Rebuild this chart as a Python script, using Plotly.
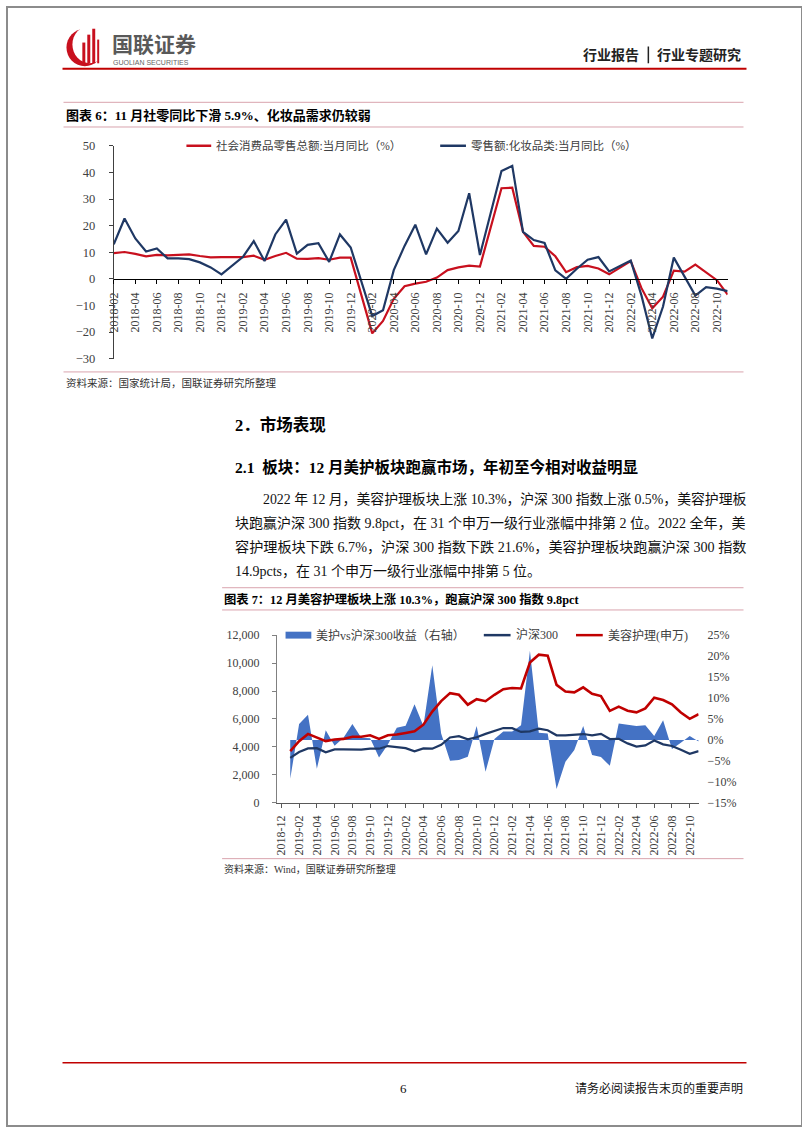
import plotly.graph_objects as go

W, H = 802, 1133
SERIF = "Liberation Serif, Noto Sans CJK SC, serif"
SANS_CJK = "Noto Sans CJK SC, sans-serif"


def X(p):
    return p / W


def Y(p):
    return 1 - p / H


# ---------------- Chart 1 data (图表6) ----------------
months1 = [
    "2018-02", "2018-03", "2018-04", "2018-05", "2018-06", "2018-07", "2018-08", "2018-09", "2018-10", "2018-11", "2018-12",
    "2019-01", "2019-02", "2019-03", "2019-04", "2019-05", "2019-06", "2019-07", "2019-08", "2019-09", "2019-10", "2019-11", "2019-12",
    "2020-01", "2020-02", "2020-03", "2020-04", "2020-05", "2020-06", "2020-07", "2020-08", "2020-09", "2020-10", "2020-11", "2020-12",
    "2021-01", "2021-02", "2021-03", "2021-04", "2021-05", "2021-06", "2021-07", "2021-08", "2021-09", "2021-10", "2021-11", "2021-12",
    "2022-01", "2022-02", "2022-03", "2022-04", "2022-05", "2022-06", "2022-07", "2022-08", "2022-09", "2022-10", "2022-11",
]
retail_yoy = [
    9.7, 10.1, 9.4, 8.5, 9.0, 8.8, 9.0, 9.2, 8.6, 8.1, 8.2,
    None, 8.2, 8.7, 7.2, 8.6, 9.8, 7.6, 7.5, 7.8, 7.2, 8.0, 8.0,
    None, -20.5, -15.8, -7.5, -2.8, -1.8, -1.1, 0.5, 3.3, 4.3, 5.0, 4.6,
    None, 34.1, 34.3, 17.7, 12.4, 12.1, 8.5, 2.5, 4.4, 4.9, 3.9, 1.7,
    None, 6.7, -3.5, -11.1, -6.7, 3.1, 2.7, 5.4, 2.5, -0.5, -5.9,
]
cosmetics_yoy = [
    13.0, 22.7, 15.2, 10.3, 11.4, 7.7, 7.7, 7.4, 6.2, 4.3, 1.7,
    None, 8.3, 14.2, 6.7, 16.7, 22.3, 9.5, 12.8, 13.4, 6.4, 16.7, 11.8,
    None, -14.0, -11.8, 3.3, 12.4, 20.4, 9.2, 18.9, 13.6, 18.0, 32.2, 9.0,
    None, 40.6, 42.5, 17.7, 14.6, 13.5, 3.2, 0.0, 3.8, 7.2, 8.2, 2.8,
    None, 6.9, -6.3, -22.4, -10.4, 8.0, 0.7, -6.3, -3.1, -3.7, -4.6,
]
ticks1 = months1[0::2]
series1_names = ["社会消费品零售总额:当月同比（%）", "零售额:化妆品类:当月同比（%）"]

# ---------------- Chart 2 data (图表7) ----------------
months2 = [
    "2018-12",
    "2019-01", "2019-02", "2019-03", "2019-04", "2019-05", "2019-06", "2019-07", "2019-08", "2019-09", "2019-10", "2019-11", "2019-12",
    "2020-01", "2020-02", "2020-03", "2020-04", "2020-05", "2020-06", "2020-07", "2020-08", "2020-09", "2020-10", "2020-11", "2020-12",
    "2021-01", "2021-02", "2021-03", "2021-04", "2021-05", "2021-06", "2021-07", "2021-08", "2021-09", "2021-10", "2021-11", "2021-12",
    "2022-01", "2022-02", "2022-03", "2022-04", "2022-05", "2022-06", "2022-07", "2022-08", "2022-09", "2022-10", "2022-11",
]
beauty_index = [
    None,
    3700, 4410, 4930, 4650, 4410, 4530, 4570, 4720, 4720, 4830, 4570, 4830,
    4880, 5000, 5120, 5590, 6530, 7280, 7850, 7730, 7020, 7420, 7270, 7730,
    8130, 8220, 8180, 10040, 10600, 10530, 8440, 7970, 7900, 8260, 7800, 7640,
    6580, 6880, 6590, 6470, 6760, 7520, 7350, 7050, 6460, 6010, 6340,
]
hs300_index = [
    None,
    3210, 3630, 3890, 3910, 3610, 3820, 3820, 3800, 3800, 3870, 3870, 4060,
    3980, 3910, 3680, 3890, 3870, 4150, 4670, 4770, 4540, 4690, 4930, 5160,
    5350, 5340, 5070, 5110, 5300, 5190, 4830, 4820, 4850, 4920, 4830, 4930,
    4560, 4580, 4250, 4020, 4110, 4460, 4180, 4060, 3800, 3510, 3700,
]
excess_return = [
    None,
    -9.3, 3.8, 6.0, -6.9, 2.3, -1.4, 0.5, 3.8, 0.5, 0.4, -4.2, -1.1,
    2.9, 3.4, 8.5, 3.3, 17.8, 1.5, -5.0, -4.8, -4.0, 3.3, -7.6, 0.2,
    2.0, 2.0, 3.5, 21.3, 1.7, 1.5, -11.7, -5.2, -2.4, 3.3, -3.6, -4.1,
    -6.2, 3.9, 3.6, 3.3, 3.5, 0.9, 4.7, -2.2, -0.7, 0.9, -0.4,
]
ticks2 = months2[0::2]
series2_names = ["美护vs沪深300收益（右轴）", "沪深300", "美容护理(申万)"]

RED = "#C8101E"
NAVY = "#1F3864"
BLUE_FILL = "#4472C4"
PINK = "#D9A3AD"

fig = go.Figure()

# Chart 1 traces
fig.add_trace(go.Scatter(x=months1, y=retail_yoy, name=series1_names[0], mode="lines",
                         line=dict(color=RED, width=2.2), connectgaps=True,
                         xaxis="x", yaxis="y", showlegend=False))
fig.add_trace(go.Scatter(x=months1, y=cosmetics_yoy, name=series1_names[1], mode="lines",
                         line=dict(color=NAVY, width=2.2), connectgaps=True,
                         xaxis="x", yaxis="y", showlegend=False))

# Chart 2 traces (area on the base axis so the lines are drawn above it)
fig.add_trace(go.Scatter(x=months2, y=excess_return, name=series2_names[0], mode="lines",
                         fill="tozeroy", fillcolor=BLUE_FILL, line=dict(color=BLUE_FILL, width=0),
                         xaxis="x2", yaxis="y2", showlegend=False))
fig.add_trace(go.Scatter(x=months2, y=hs300_index, name=series2_names[1], mode="lines",
                         line=dict(color=NAVY, width=2.2), xaxis="x2", yaxis="y3", showlegend=False))
fig.add_trace(go.Scatter(x=months2, y=beauty_index, name=series2_names[2], mode="lines",
                         line=dict(color="#C00000", width=2.6), xaxis="x2", yaxis="y3", showlegend=False))

tickfont = dict(family="Liberation Serif, serif", size=12, color="#404040")
tickfont_y1 = dict(family="Liberation Serif, serif", size=12.5, color="#404040")

fig.update_layout(
    width=W, height=H,
    margin=dict(l=0, r=0, t=0, b=0),
    paper_bgcolor="white", plot_bgcolor="rgba(0,0,0,0)",
    showlegend=False,
    xaxis=dict(type="category", categoryorder="array", categoryarray=months1,
               range=[0, len(months1) - 1], domain=[X(107.7), X(727)],
               anchor="free", position=Y(275),
               showline=True, linecolor="#000000", linewidth=1,
               ticks="outside", ticklen=4, tickcolor="#000000",
               tickmode="array", tickvals=ticks1, ticktext=ticks1, tickangle=-90,
               tickfont=tickfont, ticklabelstandoff=4,
               showgrid=False, zeroline=False),
    yaxis=dict(domain=[Y(356), Y(140.7)], range=[-30, 50], dtick=10, anchor="x",
               showline=True, linecolor="#404040", linewidth=1,
               ticks="outside", ticklen=4, tickcolor="#404040",
               tickfont=tickfont_y1, ticklabelstandoff=11,
               showgrid=False, zeroline=False),
    xaxis2=dict(type="category", categoryorder="array", categoryarray=months2,
                range=[-0.5, len(months2) - 1], domain=[X(272.3), X(697.7)],
                anchor="y2",
                showline=True, linecolor="#595959", linewidth=1,
                ticks="outside", ticklen=4, tickcolor="#595959",
                tickmode="array", tickvals=ticks2, ticktext=ticks2, tickangle=-90,
                tickfont=tickfont, ticklabelstandoff=3,
                showgrid=False, zeroline=False),
    yaxis2=dict(domain=[Y(805.7), Y(636)], range=[-15, 25], dtick=5, ticksuffix="%",
                side="right", anchor="x2", showline=False, ticks="",
                tickfont=tickfont, ticklabelstandoff=8,
                showgrid=False, zeroline=False),
    yaxis3=dict(range=[0, 12000], dtick=2000, tickformat=",", side="left",
                overlaying="y2", anchor="x2",
                showline=True, linecolor="#808080", linewidth=1,
                ticks="outside", ticklen=4, tickcolor="#808080",
                tickfont=tickfont, ticklabelstandoff=10,
                showgrid=False, zeroline=False),
)

shapes = []
annotations = []


def hline(x0, x1, y, color, width=1):
    shapes.append(dict(type="line", xref="paper", yref="paper", x0=X(x0), x1=X(x1), y0=Y(y), y1=Y(y),
                       line=dict(color=color, width=width)))


def text(x, y, s, size, color="#1a1a1a", family=SERIF, anchor="left", bold=False):
    annotations.append(dict(xref="paper", yref="paper", x=X(x), y=Y(y), text=("<b>%s</b>" % s) if bold else s,
                            showarrow=False, xanchor=anchor, yanchor="middle",
                            font=dict(family=family, size=size, color=color)))


# Page frame
shapes.append(dict(type="rect", xref="paper", yref="paper", x0=0, x1=1, y0=0, y1=1,
                   line=dict(color="#8c8c8c", width=2)))

# Logo
shapes.append(dict(type="circle", xref="paper", yref="paper", x0=X(60), x1=X(97), y0=Y(60), y1=Y(22),
                   fillcolor="#C8101E", line=dict(width=0)))
shapes.append(dict(type="circle", xref="paper", yref="paper", x0=X(66), x1=X(101), y0=Y(57), y1=Y(19),
                   fillcolor="white", line=dict(width=0)))
for bx0, bx1, by0 in [(76, 79, 36), (81, 84, 28), (86, 89, 22), (91, 93, 33)]:
    shapes.append(dict(type="rect", xref="paper", yref="paper", x0=X(bx0), x1=X(bx1), y0=Y(57), y1=Y(by0),
                       fillcolor="#C8101E", line=dict(width=0)))
text(104, 36.5, "国联证券", 21, color="#595959", family=SANS_CJK, bold=True)
text(105, 56.5, "GUOLIAN SECURITIES", 7, color="#666666", family="Liberation Sans, Arial, sans-serif")

# Header right
text(640, 48, "行业报告", 14, color="#222222", family=SANS_CJK, anchor="right", bold=True)
shapes.append(dict(type="line", xref="paper", yref="paper", x0=X(647), x1=X(647), y0=Y(40), y1=Y(57),
                   line=dict(color="#222222", width=1.5)))
text(654, 48, "行业专题研究", 14, color="#222222", family=SANS_CJK, bold=True)
hline(56, 746, 62.5, "#C00000", 2)

# Figure 6 frame and title
hline(57, 743, 96.5, PINK)
text(57, 110, "图表 6：11 月社零同比下滑 5.9%、化妆品需求仍较弱", 13, color="#000000", bold=True)
hline(57, 743, 121.5, PINK)
hline(57, 743, 369.5, PINK)
text(57, 381, "资料来源：国家统计局，国联证券研究所整理", 10.5, color="#333333")

# Chart 1 legend
hline(181, 206, 140.5, RED, 2.5)
text(209, 140.5, series1_names[0], 11.5, color="#404040")
hline(437, 463, 140.5, NAVY, 2.5)
text(466, 140.5, series1_names[1], 11.5, color="#404040")

# Section text
text(228, 423, "2．市场表现", 16.5, color="#000000", bold=True)
text(228, 466, "2.1  板块：12 月美护板块跑赢市场，年初至今相对收益明显", 15.5, color="#000000", bold=True)
para_lines = [
    (256, "2022 年 12 月，美容护理板块上涨 10.3%，沪深 300 指数上涨 0.5%，美容护理板"),
    (228, "块跑赢沪深 300 指数 9.8pct，在 31 个申万一级行业涨幅中排第 2 位。2022 全年，美"),
    (228, "容护理板块下跌 6.7%，沪深 300 指数下跌 21.6%，美容护理板块跑赢沪深 300 指数"),
    (228, "14.9pcts，在 31 个申万一级行业涨幅中排第 5 位。"),
]
para_sizes = [13.85, 14, 14.15, 14]
for i, (px, line) in enumerate(para_lines):
    text(px, 498 + i * 24.4, line, para_sizes[i], color="#111111")

# Figure 7 frame and title
hline(217, 743, 588, PINK)
text(217, 600, "图表 7：12 月美容护理板块上涨 10.3%，跑赢沪深 300 指数 9.8pct", 12.3, color="#000000", bold=True)
hline(217, 743, 610.5, PINK)
hline(217, 743, 862.3, PINK)
text(217, 873, "资料来源：Wind，国联证券研究所整理", 10, color="#333333")

# Chart 2 legend
shapes.append(dict(type="rect", xref="paper", yref="paper", x0=X(281), x1=X(307), y0=Y(639.5), y1=Y(632.5),
                   fillcolor=BLUE_FILL, line=dict(width=0)))
text(310, 636, series2_names[0], 12, color="#404040")
hline(481, 508, 636, NAVY, 2.5)
text(511, 636, series2_names[1], 12, color="#404040")
hline(574, 601, 636, "#C00000", 2.5)
text(604, 636, series2_names[2], 12, color="#404040")

# Footer
hline(56, 746, 1069, "#C00000", 1.5)
text(400, 1095, "6", 13, color="#111111", anchor="center")
text(744, 1095, "请务必阅读报告末页的重要声明", 12, color="#111111", anchor="right")

fig.update_layout(shapes=shapes, annotations=annotations)
fig.write_html("out.html")
